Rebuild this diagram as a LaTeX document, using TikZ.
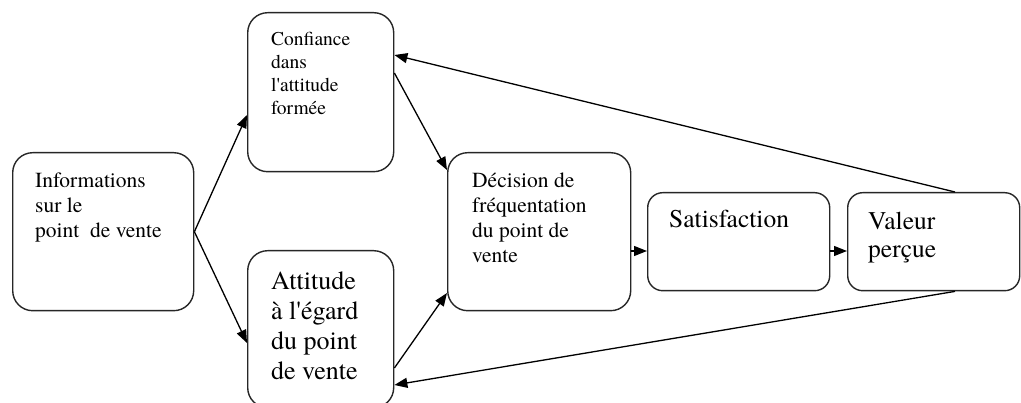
\documentclass[tikz,border=0pt]{standalone}
\usepackage{fontspec}
\setmainfont{TeX Gyre Termes}
\usetikzlibrary{arrows.meta}
\begin{document}
\begin{tikzpicture}[x=1pt,y=-1pt,
  box/.style={draw=black!85, line width=1.4pt, rounded corners=20pt, inner sep=0pt, anchor=north west},
  smallbox/.style={box, rounded corners=15pt},
  lbl/.style={anchor=base west, inner sep=0pt},
  arr/.style={-{Triangle[length=13pt,width=10pt]}, line width=1.3pt, draw=black}]
\useasboundingbox (0,0) rectangle (1021,403);
% boxes
\node[box, minimum width=181pt, minimum height=158pt] (info) at (12,152) {};
\node[box, minimum width=146pt, minimum height=159pt] (conf) at (247,12) {};
\node[box, minimum width=146pt, minimum height=157pt] (att) at (247,250) {};
\node[box, minimum width=183pt, minimum height=158pt] (dec) at (447,152) {};
\node[smallbox, minimum width=182pt, minimum height=98pt] (sat) at (647,192) {};
\node[smallbox, minimum width=172pt, minimum height=98pt] (val) at (847,192) {};
% texts
\node[lbl, font=\fontsize{21.5}{25}\selectfont] (tinfo) at (35,188)
  {\vtop{\hbox{Informations}\hbox{sur le}\hbox{point\ \ de vente}}};
\node[lbl, font=\fontsize{19.5}{23}\selectfont] (tconf) at (271,46)
  {\vtop{\hbox{Confiance}\hbox{dans}\hbox{l\textquotesingle attitude}\hbox{formée}}};
\node[lbl, font=\fontsize{26}{30}\selectfont] (tatt) at (271,290)
  {\vtop{\hbox{Attitude}\hbox{à l\textquotesingle égard}\hbox{du point}\hbox{de vente}}};
\node[lbl, font=\fontsize{21.5}{25}\selectfont] (tdec) at (472,188)
  {\vtop{\hbox{Décision de}\hbox{fréquentation}\hbox{du point de}\hbox{vente}}};
\node[lbl, font=\fontsize{25.5}{28}\selectfont] (tsat) at (669,228) {Satisfaction};
\node[lbl, font=\fontsize{25.5}{28}\selectfont] (tval) at (868,230)
  {\vtop{\hbox{Valeur}\hbox{perçue}}};
% connectors
\draw[arr] (info.east) -- (conf.west |- 0,115);
\draw[arr] (info.east) -- (att.west |- 0,343);
\draw[arr] (conf.east |- 0,73) -- (dec.west |- 0,170);
\draw[arr] (att.east |- 0,368) -- (dec.west |- 0,293);
\draw[arr] (dec.east |- 0,251) -- (sat.west |- 0,251);
\draw[arr] (sat.east |- 0,251) -- (val.west |- 0,251);
\draw[arr] (val.north -| 955,0) -- (conf.east |- 0,55);
\draw[arr] (val.south -| 955,0) -- (att.east |- 0,385);
\end{tikzpicture}
\end{document}
